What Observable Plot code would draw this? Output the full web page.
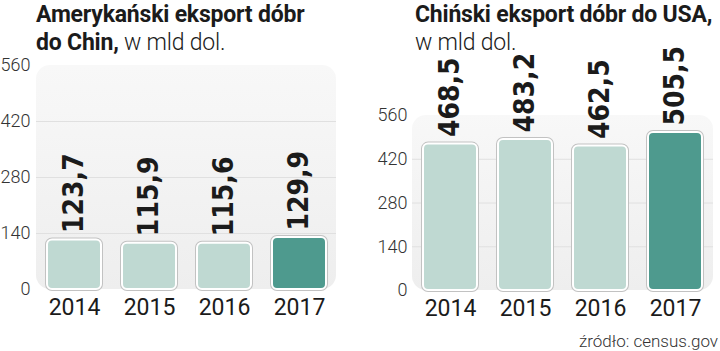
<!DOCTYPE html>
<html>
<head>
<meta charset="utf-8">
<script src="https://cdn.jsdelivr.net/npm/d3@7"></script>
<script src="https://cdn.jsdelivr.net/npm/@observablehq/plot@0.6"></script>
<style>
  html, body { margin: 0; padding: 0; background: #fff; }
  #page { position: relative; width: 720px; height: 351px; overflow: hidden; font-family: Roboto, "Noto Sans", sans-serif; color: #1b1b1b; }
  .panel { position: absolute; top: 0; width: 360px; height: 351px; }
  .title { position: absolute; top: 1px; font-size: 23px; line-height: 28px; font-weight: 700; letter-spacing: -0.2px; white-space: nowrap; z-index: 2; }
  .light { font-weight: 300; }
  .source { position: absolute; right: 2px; bottom: 0px; font-size: 17px; font-weight: 300; color: #333; }
  svg { overflow: visible; }
</style>
</head>
<body>
<svg width="0" height="0" style="position:absolute">
  <defs>
    <linearGradient id="bgGrad" x1="0" y1="0" x2="0" y2="1">
      <stop offset="0" stop-color="#f8f8f8"/>
      <stop offset="1" stop-color="#eeeeee"/>
    </linearGradient>
  </defs>
</svg>
<div id="page">
  <div class="title" style="left:36px">Amerykański eksport dóbr<br>do Chin,<span class="light"> w mld dol.</span></div>
  <div class="title" style="left:415px">Chiński eksport dóbr do USA,<br><span class="light">w mld dol.</span></div>
  <div class="panel" id="left" style="left:0px"></div>
  <div class="panel" id="right" style="left:360px"></div>
  <div class="source">źródło: census.gov</div>
</div>
<script>
const years = ["2014", "2015", "2016", "2017"];
const usExportsToChina = [123.7, 115.9, 115.6, 129.9];
const chinaExportsToUS = [468.5, 483.2, 462.5, 505.5];
const yTicks = [0, 140, 280, 420, 560];
const highlightYear = "2017";

const lightFill = "#bfd9d2";
const darkFill = "#4e9a8e";

function chart(values, m) {
  const data = years.map((y, i) => ({
    year: y,
    value: values[i],
    label: values[i].toFixed(1).replace(".", ","),
    fill: y === highlightYear ? darkFill : lightFill
  }));
  const bg = [{lo: yTicks[0], hi: yTicks[yTicks.length - 1]}];
  return Plot.plot({
    width: 360,
    height: 351,
    marginLeft: m.left,
    marginRight: m.right,
    marginTop: m.top,
    marginBottom: m.bottom,
    style: {background: "transparent", fontFamily: "Roboto, 'Noto Sans', sans-serif", overflow: "visible"},
    x: {domain: years, paddingInner: 0.28, paddingOuter: 0.14, axis: null},
    y: {domain: [yTicks[0], yTicks[yTicks.length - 1]], axis: null},
    marks: [
      Plot.rect(bg, {y1: "lo", y2: "hi", fill: "url(#bgGrad)", rx: 14}),
      Plot.gridY(yTicks.slice(1, -1), {stroke: "#e0e0e0", strokeOpacity: 1}),
      Plot.axisY(yTicks, {tickSize: 0, tickPadding: m.tickPad, fontSize: 18, fontWeight: 300, fill: "#333", label: null}),
      Plot.barY(data, {x: "year", y: "value", fill: "fill", stroke: "#c2c2c2", strokeWidth: 4, rx: 5}),
      Plot.barY(data, {x: "year", y: "value", fill: "fill", stroke: "#ffffff", strokeWidth: 2, rx: 5}),
      Plot.text(data, {x: "year", y: "value", text: "label", rotate: -90, textAnchor: "start", dy: -7,
        fontSize: 28, fontWeight: "bold", fill: "#1b1b1b",
        fontFamily: "'Liberation Sans Narrow', 'DejaVu Sans Condensed', sans-serif"}),
      Plot.axisX({tickSize: 0, tickPadding: 9, fontSize: 23, fill: "#1b1b1b", label: null})
    ]
  });
}

document.getElementById("left").append(chart(usExportsToChina, {left: 36, right: 24, top: 65, bottom: 62, tickPad: 6}));
document.getElementById("right").append(chart(chinaExportsToUS, {left: 52, right: 7, top: 115, bottom: 61, tickPad: 5}));
</script>
</body>
</html>
